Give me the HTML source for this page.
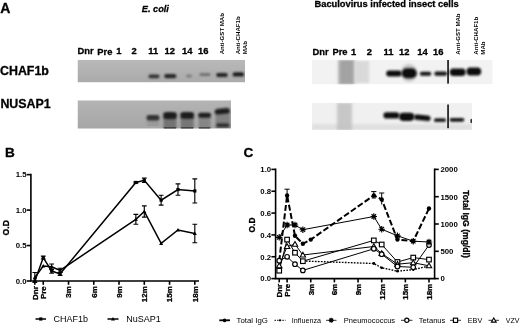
<!DOCTYPE html>
<html><head><meta charset="utf-8"><title>Figure</title>
<style>
html,body{margin:0;padding:0;background:#fff;}
body{width:520px;height:325px;overflow:hidden;}
svg{display:block;}
svg text{font-family:"Liberation Sans",Arial,Helvetica,sans-serif;fill:#000;}
.b{font-weight:bold;stroke:#000;stroke-width:0.3px;stroke-linejoin:round;}
.t{font-weight:bold;}
</style></head><body>
<svg width="520" height="325" viewBox="0 0 520 325">
<defs>
<filter id="bl1" x="-30%" y="-80%" width="160%" height="260%"><feGaussianBlur stdDeviation="0.9 0.7"/></filter>
<filter id="bl0" x="-30%" y="-80%" width="160%" height="260%"><feGaussianBlur stdDeviation="0.5 0.4"/></filter>
<filter id="bl1b" x="-30%" y="-80%" width="160%" height="260%"><feGaussianBlur stdDeviation="1.0 0.85"/></filter>
<filter id="bl2" x="-30%" y="-80%" width="160%" height="260%"><feGaussianBlur stdDeviation="1.6 1.2"/></filter>
<filter id="bl3" x="-30%" y="-30%" width="160%" height="160%"><feGaussianBlur stdDeviation="2.5 1.5"/></filter>
<filter id="blt" x="-5%" y="-5%" width="110%" height="110%"><feGaussianBlur stdDeviation="0.35"/></filter>
<linearGradient id="gL1" x1="0" y1="0" x2="0" y2="1"><stop offset="0" stop-color="#b9b9b9"/><stop offset="1" stop-color="#aaaaaa"/></linearGradient>
<linearGradient id="gL2" x1="0" y1="0" x2="0" y2="1"><stop offset="0" stop-color="#b4b4b4"/><stop offset="1" stop-color="#a6a6a6"/></linearGradient>
<clipPath id="cLT"><rect x="77.5" y="59.8" width="167.5" height="22.6"/></clipPath>
<clipPath id="cLB"><rect x="77.5" y="100.3" width="153.5" height="28.4"/></clipPath>
<clipPath id="cRT"><rect x="312" y="59.8" width="180.7" height="24.6"/></clipPath>
<clipPath id="cRB"><rect x="312" y="102.7" width="160" height="27.2"/></clipPath>
</defs>
<rect width="520" height="325" fill="#fff"/>

<g filter="url(#blt)">
<text class="b" x="0.2" y="13" font-size="14">A</text>
<text class="b" x="5" y="156.5" font-size="13.6">B</text>
<text class="b" x="243.4" y="156.8" font-size="13.6">C</text>
<text class="b" x="0" y="75" font-size="12.4">CHAF1b</text>
<text class="b" x="0.4" y="107.7" font-size="12.4">NUSAP1</text>
<text class="b" x="141.8" y="12.2" font-size="9.2" font-style="italic">E. coli</text>
<text class="b" x="314.5" y="7" font-size="9.3">Baculovirus infected insect cells</text>
<text class="b" x="77.5" y="54" font-size="9.4">Dnr</text>
<text class="b" x="97.3" y="55" font-size="9.4">Pre</text>
<text class="b" x="116.3" y="54" font-size="9.4">1</text>
<text class="b" x="131.5" y="54" font-size="9.4">2</text>
<text class="b" x="148.3" y="54" font-size="9.4">11</text>
<text class="b" x="164.5" y="54" font-size="9.4">12</text>
<text class="b" x="182" y="54" font-size="9.4">14</text>
<text class="b" x="198" y="54" font-size="9.4">16</text>
<text class="b" x="312.6" y="55.3" font-size="9.4">Dnr</text>
<text class="b" x="332.4" y="55.3" font-size="9.4">Pre</text>
<text class="b" x="351" y="55.3" font-size="9.4">1</text>
<text class="b" x="366.8" y="55.3" font-size="9.4">2</text>
<text class="b" x="383.5" y="55.3" font-size="9.4">11</text>
<text class="b" x="399" y="55.3" font-size="9.4">12</text>
<text class="b" x="417.3" y="55.3" font-size="9.4">14</text>
<text class="b" x="433" y="55.3" font-size="9.4">16</text>
<text class="t" transform="translate(224.2,54.3) rotate(-90)" font-size="6.1">Anti-GST MAb</text>
<text class="t" transform="translate(240.3,54.3) rotate(-90)" font-size="6.1">Anti-CHAF1b</text>
<text class="t" transform="translate(247.2,54.3) rotate(-90)" font-size="6.1">MAb</text>
<text class="t" transform="translate(460,54.7) rotate(-90)" font-size="6.1">Anti-GST MAb</text>
<text class="t" transform="translate(477.7,54.7) rotate(-90)" font-size="6.1">Anti-CHAF1b</text>
<text class="t" transform="translate(485,54.7) rotate(-90)" font-size="6.1">MAb</text>
</g>
<g clip-path="url(#cLT)">
<rect x="77.5" y="59.8" width="167.5" height="22.6" fill="url(#gL1)"/>
<rect x="148.5" y="74.6" width="11" height="3.6" rx="1.8" fill="#333" opacity="1" filter="url(#bl1b)"/>
<rect x="164.3" y="74.1" width="12" height="4.2" rx="2.1" fill="#262626" opacity="1" filter="url(#bl1b)"/>
<rect x="186.0" y="74.7" width="6" height="2.6" rx="1.3" fill="#777" opacity="1" filter="url(#bl1b)"/>
<rect x="199.5" y="73.3" width="11" height="2.6" rx="1.3" fill="#6c6c6c" opacity="1" filter="url(#bl1b)"/>
<rect x="216.2" y="73.0" width="11.5" height="4" rx="2.0" fill="#242424" opacity="1" filter="url(#bl1b)"/>
<rect x="232.6" y="72.2" width="11.5" height="4.4" rx="2.2" fill="#1e1e1e" opacity="1" filter="url(#bl1b)"/>
</g>
<g clip-path="url(#cLB)">
<rect x="77.5" y="100.3" width="153.5" height="28.4" fill="url(#gL2)"/>
<rect x="147" y="119" width="12" height="7" fill="#8a8a8a" opacity="0.45" filter="url(#bl1)"/>
<rect x="146.5" y="115.0" width="13" height="5.4" rx="2.7" fill="#303030" opacity="1" filter="url(#bl1b)"/>
<rect x="163.5" y="117" width="13" height="11" fill="#6a6a6a" opacity="0.85" filter="url(#bl1)"/>
<rect x="163.8" y="127.2" width="12.4" height="1.6" fill="#2a2a2a" opacity="0.8" filter="url(#bl0)"/>
<rect x="163.0" y="112.1" width="14" height="7" rx="3.5" fill="#1e1e1e" opacity="1" filter="url(#bl1b)"/>
<rect x="180.7" y="117" width="13" height="11" fill="#6a6a6a" opacity="0.8" filter="url(#bl1)"/>
<rect x="181.0" y="127.2" width="12.4" height="1.6" fill="#2a2a2a" opacity="0.8" filter="url(#bl0)"/>
<rect x="180.2" y="112.1" width="14" height="6.6" rx="3.3" fill="#1e1e1e" opacity="1" filter="url(#bl1b)"/>
<rect x="198.6" y="117" width="12" height="11" fill="#6a6a6a" opacity="0.55" filter="url(#bl1)"/>
<rect x="198.9" y="127.2" width="11.4" height="1.6" fill="#2a2a2a" opacity="0.8" filter="url(#bl0)"/>
<rect x="198.1" y="112.7" width="13" height="5" rx="2.5" fill="#1e1e1e" opacity="1" filter="url(#bl1b)"/>
<rect x="215.5" y="111" width="14.5" height="17" fill="#707070" opacity="0.7" filter="url(#bl1)"/>
<g transform="rotate(-6 222.3 111.3)">
<rect x="214.8" y="108.6" width="15" height="5.4" rx="2.7" fill="#1c1c1c" opacity="1" filter="url(#bl1b)"/>
</g>
<rect x="216.3" y="123.4" width="13" height="3.6" rx="1.8" fill="#2a2a2a" opacity="1" filter="url(#bl1b)"/>
</g>
<g clip-path="url(#cRT)">
<rect x="312" y="59.8" width="180.7" height="24.6" fill="#f2f2f2"/>
<rect x="338.5" y="60" width="16" height="24.4" fill="#969696" opacity="0.85" filter="url(#bl2)"/>
<rect x="355" y="61" width="14" height="22" fill="#cfcfcf" opacity="0.7" filter="url(#bl2)"/>
<ellipse cx="409" cy="72.8" rx="8" ry="9" fill="#b8b8b8" opacity="0.75" filter="url(#bl2)"/>
<rect x="386.2" y="70.6" width="15.5" height="6.0" rx="3.0" fill="#101010" opacity="1" filter="url(#bl1b)"/>
<rect x="401.7" y="68.2" width="15" height="10" rx="5.0" fill="#0c0c0c" opacity="1" filter="url(#bl1b)"/>
<rect x="419.8" y="71.8" width="11.5" height="4.0" rx="2.0" fill="#161616" opacity="1" filter="url(#bl1b)"/>
<rect x="434.3" y="71.6" width="13" height="4.2" rx="2.1" fill="#161616" opacity="1" filter="url(#bl1b)"/>
<rect x="449.7" y="68.5" width="16" height="7.4" rx="3.7" fill="#0e0e0e" opacity="1" filter="url(#bl1b)"/>
<rect x="466.5" y="67.4" width="14.7" height="8.0" rx="4.0" fill="#0e0e0e" opacity="1" filter="url(#bl1b)"/>
<rect x="447.3" y="59.8" width="1.5" height="23.8" fill="#000"/>
</g>
<g clip-path="url(#cRB)">
<rect x="312" y="102.7" width="160" height="27.2" fill="#f0f0f0"/>
<rect x="312" y="124" width="160" height="6" fill="#d0d0d0" opacity="0.5" filter="url(#bl2)"/>
<rect x="337" y="103" width="15" height="27" fill="#c0c0c0" opacity="0.85" filter="url(#bl2)"/>
<rect x="383.4" y="112.3" width="16" height="6.2" rx="3.1" fill="#101010" opacity="1" filter="url(#bl1b)"/>
<rect x="399.0" y="112.7" width="15.4" height="8.2" rx="4.1" fill="#0e0e0e" opacity="1" filter="url(#bl1b)"/>
<g transform="rotate(6 422.3 117.8)">
<rect x="414.0" y="115.0" width="16.6" height="5.6" rx="2.8" fill="#101010" opacity="1" filter="url(#bl1b)"/>
</g>
<rect x="434.0" y="118.3" width="12" height="3.8" rx="1.9" fill="#1a1a1a" opacity="1" filter="url(#bl1b)"/>
<rect x="449.6" y="117.9" width="14.7" height="3.8" rx="1.9" fill="#181818" opacity="1" filter="url(#bl1b)"/>
<rect x="470.3" y="118.8" width="2" height="4.4" rx="2.2" fill="#333" opacity="1" filter="url(#bl0)"/>
<rect x="447.3" y="104.5" width="1.5" height="23.7" fill="#000"/>
</g>
<g stroke="#000" fill="none" stroke-width="1.6" stroke-linecap="butt">
<path d="M30.9 173.84999999999997 V281.0 M30.099999999999998 281.0 H199"/>
<path d="M26.7 281.00 H30.9"/>
<path d="M26.7 245.55 H30.9"/>
<path d="M26.7 210.10 H30.9"/>
<path d="M26.7 174.65 H30.9"/>
<path d="M34.83 281.0 V284.8"/>
<path d="M43.25 281.0 V284.8"/>
<path d="M68.51 281.0 V284.8"/>
<path d="M93.77 281.0 V284.8"/>
<path d="M119.03 281.0 V284.8"/>
<path d="M144.29 281.0 V284.8"/>
<path d="M169.55 281.0 V284.8"/>
<path d="M194.81 281.0 V284.8"/>
</g>
<g filter="url(#blt)">
<text class="t" x="26.5" y="283.80" font-size="7.8" text-anchor="end">0.0</text>
<text class="t" x="26.5" y="248.35" font-size="7.8" text-anchor="end">0.5</text>
<text class="t" x="26.5" y="212.90" font-size="7.8" text-anchor="end">1.0</text>
<text class="t" x="26.5" y="177.45" font-size="7.8" text-anchor="end">1.5</text>
<text class="b" transform="translate(37.73,286.2) rotate(-90)" font-size="8" text-anchor="end">Dnr</text>
<text class="b" transform="translate(46.15,286.2) rotate(-90)" font-size="8" text-anchor="end">Pre</text>
<text class="b" transform="translate(71.41,286.2) rotate(-90)" font-size="8" text-anchor="end">3m</text>
<text class="b" transform="translate(96.67,286.2) rotate(-90)" font-size="8" text-anchor="end">6m</text>
<text class="b" transform="translate(121.93,286.2) rotate(-90)" font-size="8" text-anchor="end">9m</text>
<text class="b" transform="translate(147.19,286.2) rotate(-90)" font-size="8" text-anchor="end">12m</text>
<text class="b" transform="translate(172.45,286.2) rotate(-90)" font-size="8" text-anchor="end">15m</text>
<text class="b" transform="translate(197.71,286.2) rotate(-90)" font-size="8" text-anchor="end">18m</text>
<text class="b" transform="translate(9.2,227.8) rotate(-90)" font-size="8.6" text-anchor="middle">O.D</text>
</g>
<path d="M34.83 281.00 L43.25 257.60 L51.67 271.07 L60.09 273.91 L135.87 182.45 L144.29 180.32 L161.13 200.17 L177.97 189.54 L194.81 190.96" fill="none" stroke="#000" stroke-width="1.5" stroke-linejoin="miter"/>
<path d="M34.83 277.45 L43.25 266.11 L51.67 266.82 L60.09 270.37 L135.87 219.32 L144.29 211.52 L161.13 243.42 L177.97 229.95 L194.81 233.50" fill="none" stroke="#000" stroke-width="1.5" stroke-linejoin="miter"/>
<path d="M43.25 256.19 V259.02 M40.85 256.19 H45.65 M40.85 259.02 H45.65" stroke="#000" stroke-width="1.15" fill="none"/>
<path d="M51.67 268.95 V273.20 M49.27 268.95 H54.07 M49.27 273.20 H54.07" stroke="#000" stroke-width="1.15" fill="none"/>
<path d="M60.09 272.49 V275.33 M57.69 272.49 H62.49 M57.69 275.33 H62.49" stroke="#000" stroke-width="1.15" fill="none"/>
<path d="M135.87 181.74 V183.16 M133.47 181.74 H138.27 M133.47 183.16 H138.27" stroke="#000" stroke-width="1.15" fill="none"/>
<path d="M144.29 178.19 V182.45 M141.89 178.19 H146.69 M141.89 182.45 H146.69" stroke="#000" stroke-width="1.15" fill="none"/>
<path d="M161.13 195.21 V205.14 M158.73 195.21 H163.53 M158.73 205.14 H163.53" stroke="#000" stroke-width="1.15" fill="none"/>
<path d="M177.97 183.87 V195.21 M175.57 183.87 H180.37 M175.57 195.21 H180.37" stroke="#000" stroke-width="1.15" fill="none"/>
<path d="M194.81 178.90 V203.01 M192.41 178.90 H197.21 M192.41 203.01 H197.21" stroke="#000" stroke-width="1.15" fill="none"/>
<path d="M34.83 272.49 V282.42 M32.43 272.49 H37.23 M32.43 282.42 H37.23" stroke="#000" stroke-width="1.15" fill="none"/>
<path d="M51.67 263.98 V269.66 M49.27 263.98 H54.07 M49.27 269.66 H54.07" stroke="#000" stroke-width="1.15" fill="none"/>
<path d="M60.09 268.24 V272.49 M57.69 268.24 H62.49 M57.69 272.49 H62.49" stroke="#000" stroke-width="1.15" fill="none"/>
<path d="M135.87 214.35 V224.28 M133.47 214.35 H138.27 M133.47 224.28 H138.27" stroke="#000" stroke-width="1.15" fill="none"/>
<path d="M144.29 205.85 V217.19 M141.89 205.85 H146.69 M141.89 217.19 H146.69" stroke="#000" stroke-width="1.15" fill="none"/>
<path d="M194.81 224.28 V242.71 M192.41 224.28 H197.21 M192.41 242.71 H197.21" stroke="#000" stroke-width="1.15" fill="none"/>
<rect x="33.23" y="279.40" width="3.2" height="3.2" fill="#000"/>
<rect x="41.65" y="256.00" width="3.2" height="3.2" fill="#000"/>
<rect x="50.07" y="269.47" width="3.2" height="3.2" fill="#000"/>
<rect x="58.49" y="272.31" width="3.2" height="3.2" fill="#000"/>
<rect x="134.27" y="180.85" width="3.2" height="3.2" fill="#000"/>
<rect x="142.69" y="178.72" width="3.2" height="3.2" fill="#000"/>
<rect x="159.53" y="198.57" width="3.2" height="3.2" fill="#000"/>
<rect x="176.37" y="187.94" width="3.2" height="3.2" fill="#000"/>
<rect x="193.21" y="189.36" width="3.2" height="3.2" fill="#000"/>
<path d="M34.83 275.45 L36.83 278.95 L32.83 278.95Z" fill="#000"/>
<path d="M43.25 264.11 L45.25 267.61 L41.25 267.61Z" fill="#000"/>
<path d="M51.67 264.82 L53.67 268.32 L49.67 268.32Z" fill="#000"/>
<path d="M60.09 268.37 L62.09 271.87 L58.09 271.87Z" fill="#000"/>
<path d="M135.87 217.32 L137.87 220.82 L133.87 220.82Z" fill="#000"/>
<path d="M144.29 209.52 L146.29 213.02 L142.29 213.02Z" fill="#000"/>
<path d="M161.13 241.42 L163.13 244.92 L159.13 244.92Z" fill="#000"/>
<path d="M177.97 227.95 L179.97 231.45 L175.97 231.45Z" fill="#000"/>
<path d="M194.81 231.50 L196.81 235.00 L192.81 235.00Z" fill="#000"/>
<path d="M35.5 319 H46 M107.5 319 H118.5" stroke="#000" stroke-width="1.3"/>
<rect x="39.2" y="317.4" width="3.2" height="3.2" fill="#000"/>
<path d="M113 317 L115 320.5 L111 320.5Z" fill="#000"/>
<g filter="url(#blt)">
<text x="53.5" y="322" font-size="9">CHAF1b</text>
<text x="126.3" y="322" font-size="9">NuSAP1</text>
</g>
<g stroke="#000" fill="none" stroke-width="1.6">
<path d="M275.6 168.60000000000002 V278.6 M274.8 278.6 H435.40000000000003 M434.6 278.6 V168.60000000000002"/>
<path d="M271.40000000000003 278.60 H275.6"/>
<path d="M271.40000000000003 256.76 H275.6"/>
<path d="M271.40000000000003 234.92 H275.6"/>
<path d="M271.40000000000003 213.08 H275.6"/>
<path d="M271.40000000000003 191.24 H275.6"/>
<path d="M271.40000000000003 169.40 H275.6"/>
<path d="M434.6 278.60 H438.8"/>
<path d="M434.6 251.30 H438.8"/>
<path d="M434.6 224.00 H438.8"/>
<path d="M434.6 196.70 H438.8"/>
<path d="M434.6 169.40 H438.8"/>
<path d="M279.22 278.6 V282.40000000000003"/>
<path d="M287.10 278.6 V282.40000000000003"/>
<path d="M310.75 278.6 V282.40000000000003"/>
<path d="M334.40 278.6 V282.40000000000003"/>
<path d="M358.05 278.6 V282.40000000000003"/>
<path d="M381.70 278.6 V282.40000000000003"/>
<path d="M405.35 278.6 V282.40000000000003"/>
<path d="M428.99 278.6 V282.40000000000003"/>
</g>
<g filter="url(#blt)">
<text class="t" x="271.20000000000005" y="281.40" font-size="7.8" text-anchor="end">0.0</text>
<text class="t" x="271.20000000000005" y="259.56" font-size="7.8" text-anchor="end">0.2</text>
<text class="t" x="271.20000000000005" y="237.72" font-size="7.8" text-anchor="end">0.4</text>
<text class="t" x="271.20000000000005" y="215.88" font-size="7.8" text-anchor="end">0.6</text>
<text class="t" x="271.20000000000005" y="194.04" font-size="7.8" text-anchor="end">0.8</text>
<text class="t" x="271.20000000000005" y="172.20" font-size="7.8" text-anchor="end">1.0</text>
<text class="t" x="440.40000000000003" y="281.40" font-size="7.8">0</text>
<text class="t" x="440.40000000000003" y="254.10" font-size="7.8">500</text>
<text class="t" x="440.40000000000003" y="226.80" font-size="7.8">1000</text>
<text class="t" x="440.40000000000003" y="199.50" font-size="7.8">1500</text>
<text class="t" x="440.40000000000003" y="172.20" font-size="7.8">2000</text>
<text class="b" transform="translate(282.12,283.8) rotate(-90)" font-size="8" text-anchor="end">Dnr</text>
<text class="b" transform="translate(290.00,283.8) rotate(-90)" font-size="8" text-anchor="end">Pre</text>
<text class="b" transform="translate(313.65,283.8) rotate(-90)" font-size="8" text-anchor="end">3m</text>
<text class="b" transform="translate(337.30,283.8) rotate(-90)" font-size="8" text-anchor="end">6m</text>
<text class="b" transform="translate(360.95,283.8) rotate(-90)" font-size="8" text-anchor="end">9m</text>
<text class="b" transform="translate(384.60,283.8) rotate(-90)" font-size="8" text-anchor="end">12m</text>
<text class="b" transform="translate(408.25,283.8) rotate(-90)" font-size="8" text-anchor="end">15m</text>
<text class="b" transform="translate(431.89,283.8) rotate(-90)" font-size="8" text-anchor="end">18m</text>
<text class="b" transform="translate(254.5,225.0) rotate(-90)" font-size="8.4" text-anchor="middle">O.D</text>
<text class="b" transform="translate(463,224.0) rotate(90)" font-size="8.6" text-anchor="middle">Total IgG (mg/dl)</text>
</g>
<path d="M302.87 261.00 L373.81 263.50 L381.70 267.80 L397.46 271.20 L413.23 269.60 L428.99 266.00" fill="none" stroke="#000" stroke-width="1.35" stroke-dasharray="1.7 1.3"/>
<path d="M279.22 260.70 L287.10 256.80 L294.98 264.20 L302.87 270.40 L373.81 248.80 L381.70 254.20 L397.46 266.50 L413.23 267.30 L428.99 245.00" fill="none" stroke="#000" stroke-width="1.0"/>
<path d="M279.22 265.80 L287.10 246.50 L294.98 244.20 L302.87 255.00 L373.81 246.50 L381.70 253.50 L397.46 264.20 L413.23 262.70 L428.99 265.80" fill="none" stroke="#000" stroke-width="1.0"/>
<path d="M279.22 270.70 L287.10 239.60 L294.98 252.70 L302.87 261.20 L373.81 240.40 L381.70 244.50 L397.46 262.00 L413.23 257.60 L428.99 259.60" fill="none" stroke="#000" stroke-width="1.0"/>
<path d="M279.22 237.30 L287.10 225.00 L294.98 225.00 L302.87 229.70 L373.81 216.50 L381.70 229.20 L397.46 235.80 L413.23 241.20 L428.99 242.00" fill="none" stroke="#000" stroke-width="1.0"/>
<path d="M279.22 261.00 L287.10 195.40 L294.98 235.80 L302.87 243.80 L310.75 239.60 L373.81 195.40 L381.70 199.40 L397.46 239.60 L413.23 241.20 L428.99 208.50" fill="none" stroke="#000" stroke-width="2.0" stroke-dasharray="6 2.4"/>
<path d="M287.10 189.2 V195 M284.50 189.2 H289.70" stroke="#000" stroke-width="1" fill="none"/>
<path d="M373.81 191.6 V198 M371.21 191.6 H376.41" stroke="#000" stroke-width="1" fill="none"/>
<path d="M371.81 198 H375.81" stroke="#000" stroke-width="1"/>
<path d="M381.70 193 V204.5 M379.10 193 H384.30" stroke="#000" stroke-width="1" fill="none"/>
<circle cx="373.81" cy="263.50" r="1.4" fill="#000"/>
<circle cx="381.70" cy="267.80" r="1.4" fill="#000"/>
<circle cx="397.46" cy="271.20" r="1.4" fill="#000"/>
<circle cx="413.23" cy="269.60" r="1.4" fill="#000"/>
<circle cx="428.99" cy="266.00" r="1.4" fill="#000"/>
<rect x="276.92" y="268.40" width="4.6" height="4.6" fill="#fff" stroke="#000" stroke-width="1.15"/>
<rect x="284.80" y="237.30" width="4.6" height="4.6" fill="#fff" stroke="#000" stroke-width="1.15"/>
<rect x="292.68" y="250.40" width="4.6" height="4.6" fill="#fff" stroke="#000" stroke-width="1.15"/>
<rect x="300.57" y="258.90" width="4.6" height="4.6" fill="#fff" stroke="#000" stroke-width="1.15"/>
<rect x="371.51" y="238.10" width="4.6" height="4.6" fill="#fff" stroke="#000" stroke-width="1.15"/>
<rect x="379.40" y="242.20" width="4.6" height="4.6" fill="#fff" stroke="#000" stroke-width="1.15"/>
<rect x="395.16" y="259.70" width="4.6" height="4.6" fill="#fff" stroke="#000" stroke-width="1.15"/>
<rect x="410.93" y="255.30" width="4.6" height="4.6" fill="#fff" stroke="#000" stroke-width="1.15"/>
<rect x="426.69" y="257.30" width="4.6" height="4.6" fill="#fff" stroke="#000" stroke-width="1.15"/>
<path d="M279.22 263.10 L281.92 267.82 L276.52 267.82Z" fill="#fff" stroke="#000" stroke-width="1.1"/>
<path d="M287.10 243.80 L289.80 248.53 L284.40 248.53Z" fill="#fff" stroke="#000" stroke-width="1.1"/>
<path d="M294.98 241.50 L297.68 246.22 L292.28 246.22Z" fill="#fff" stroke="#000" stroke-width="1.1"/>
<path d="M302.87 252.30 L305.57 257.02 L300.17 257.02Z" fill="#fff" stroke="#000" stroke-width="1.1"/>
<path d="M373.81 243.80 L376.51 248.53 L371.11 248.53Z" fill="#fff" stroke="#000" stroke-width="1.1"/>
<path d="M381.70 250.80 L384.40 255.53 L379.00 255.53Z" fill="#fff" stroke="#000" stroke-width="1.1"/>
<path d="M397.46 261.50 L400.16 266.22 L394.76 266.22Z" fill="#fff" stroke="#000" stroke-width="1.1"/>
<path d="M413.23 260.00 L415.93 264.72 L410.53 264.72Z" fill="#fff" stroke="#000" stroke-width="1.1"/>
<path d="M428.99 263.10 L431.69 267.82 L426.29 267.82Z" fill="#fff" stroke="#000" stroke-width="1.1"/>
<circle cx="279.22" cy="260.70" r="2.3" fill="#fff" stroke="#000" stroke-width="1.2"/>
<circle cx="287.10" cy="256.80" r="2.3" fill="#fff" stroke="#000" stroke-width="1.2"/>
<circle cx="294.98" cy="264.20" r="2.3" fill="#fff" stroke="#000" stroke-width="1.2"/>
<circle cx="302.87" cy="270.40" r="2.3" fill="#fff" stroke="#000" stroke-width="1.2"/>
<circle cx="373.81" cy="248.80" r="2.3" fill="#fff" stroke="#000" stroke-width="1.2"/>
<circle cx="381.70" cy="254.20" r="2.3" fill="#fff" stroke="#000" stroke-width="1.2"/>
<circle cx="397.46" cy="266.50" r="2.3" fill="#fff" stroke="#000" stroke-width="1.2"/>
<circle cx="413.23" cy="267.30" r="2.3" fill="#fff" stroke="#000" stroke-width="1.2"/>
<circle cx="428.99" cy="245.00" r="2.3" fill="#fff" stroke="#000" stroke-width="1.2"/>
<path d="M276.02 237.30 L282.42 237.30 M276.95 235.04 L281.48 239.56 M279.22 234.10 L279.22 240.50 M281.48 235.04 L276.95 239.56 " stroke="#000" stroke-width="1.15" fill="none"/><circle cx="279.22" cy="237.30" r="1.35" fill="#000"/>
<path d="M283.90 225.00 L290.30 225.00 M284.84 222.74 L289.36 227.26 M287.10 221.80 L287.10 228.20 M289.36 222.74 L284.84 227.26 " stroke="#000" stroke-width="1.15" fill="none"/><circle cx="287.10" cy="225.00" r="1.35" fill="#000"/>
<path d="M291.78 225.00 L298.18 225.00 M292.72 222.74 L297.25 227.26 M294.98 221.80 L294.98 228.20 M297.25 222.74 L292.72 227.26 " stroke="#000" stroke-width="1.15" fill="none"/><circle cx="294.98" cy="225.00" r="1.35" fill="#000"/>
<path d="M299.67 229.70 L306.07 229.70 M300.60 227.44 L305.13 231.96 M302.87 226.50 L302.87 232.90 M305.13 227.44 L300.60 231.96 " stroke="#000" stroke-width="1.15" fill="none"/><circle cx="302.87" cy="229.70" r="1.35" fill="#000"/>
<path d="M370.61 216.50 L377.01 216.50 M371.55 214.24 L376.08 218.76 M373.81 213.30 L373.81 219.70 M376.08 214.24 L371.55 218.76 " stroke="#000" stroke-width="1.15" fill="none"/><circle cx="373.81" cy="216.50" r="1.35" fill="#000"/>
<path d="M378.50 229.20 L384.90 229.20 M379.43 226.94 L383.96 231.46 M381.70 226.00 L381.70 232.40 M383.96 226.94 L379.43 231.46 " stroke="#000" stroke-width="1.15" fill="none"/><circle cx="381.70" cy="229.20" r="1.35" fill="#000"/>
<path d="M394.26 235.80 L400.66 235.80 M395.20 233.54 L399.72 238.06 M397.46 232.60 L397.46 239.00 M399.72 233.54 L395.20 238.06 " stroke="#000" stroke-width="1.15" fill="none"/><circle cx="397.46" cy="235.80" r="1.35" fill="#000"/>
<path d="M410.03 241.20 L416.43 241.20 M410.97 238.94 L415.49 243.46 M413.23 238.00 L413.23 244.40 M415.49 238.94 L410.97 243.46 " stroke="#000" stroke-width="1.15" fill="none"/><circle cx="413.23" cy="241.20" r="1.35" fill="#000"/>
<path d="M425.79 242.00 L432.19 242.00 M426.73 239.74 L431.26 244.26 M428.99 238.80 L428.99 245.20 M431.26 239.74 L426.73 244.26 " stroke="#000" stroke-width="1.15" fill="none"/><circle cx="428.99" cy="242.00" r="1.35" fill="#000"/>
<circle cx="287.10" cy="195.40" r="2.2" fill="#000"/>
<circle cx="294.98" cy="235.80" r="2.2" fill="#000"/>
<circle cx="302.87" cy="243.80" r="2.2" fill="#000"/>
<circle cx="310.75" cy="239.60" r="2.2" fill="#000"/>
<circle cx="373.81" cy="195.40" r="2.2" fill="#000"/>
<circle cx="381.70" cy="199.40" r="2.2" fill="#000"/>
<circle cx="397.46" cy="239.60" r="2.2" fill="#000"/>
<circle cx="413.23" cy="241.20" r="2.2" fill="#000"/>
<circle cx="428.99" cy="208.50" r="2.2" fill="#000"/>
<path d="M219.3 320.3 H230" stroke="#000" stroke-width="1.8"/>
<circle cx="224.60" cy="320.30" r="1.9" fill="#000"/>
<path d="M274.5 320.3 H285.5" stroke="#000" stroke-width="1" stroke-dasharray="1.5 1.1"/>
<circle cx="280" cy="320.3" r="1.1" fill="#000"/>
<path d="M326 320.3 H336.5" stroke="#000" stroke-width="0.8"/>
<path d="M328.70 320.30 L333.70 320.30 M329.43 318.53 L332.97 322.07 M331.20 317.80 L331.20 322.80 M332.97 318.53 L329.43 322.07 " stroke="#000" stroke-width="1.15" fill="none"/><circle cx="331.20" cy="320.30" r="1.35" fill="#000"/>
<path d="M401 320.3 H412.5" stroke="#000" stroke-width="0.8"/>
<circle cx="406.80" cy="320.30" r="2.1" fill="#fff" stroke="#000" stroke-width="1.2"/>
<path d="M450 320.3 H461" stroke="#000" stroke-width="0.8"/>
<rect x="453.40" y="318.20" width="4.2" height="4.2" fill="#fff" stroke="#000" stroke-width="1.15"/>
<path d="M488.5 320.3 H499" stroke="#000" stroke-width="0.8"/>
<path d="M493.80 317.90 L496.20 322.10 L491.40 322.10Z" fill="#fff" stroke="#000" stroke-width="1.1"/>
<g filter="url(#blt)">
<text x="236.6" y="322.9" font-size="7.8">Total IgG</text>
<text x="291.8" y="322.9" font-size="7.2">Influenza</text>
<text x="343.8" y="322.9" font-size="7.5">Pneumococcus</text>
<text x="418.8" y="322.9" font-size="7.6">Tetanus</text>
<text x="467.8" y="322.9" font-size="7.2">EBV</text>
<text x="505.8" y="322.9" font-size="7.0">VZV</text>
</g>
</svg>
</body></html>
